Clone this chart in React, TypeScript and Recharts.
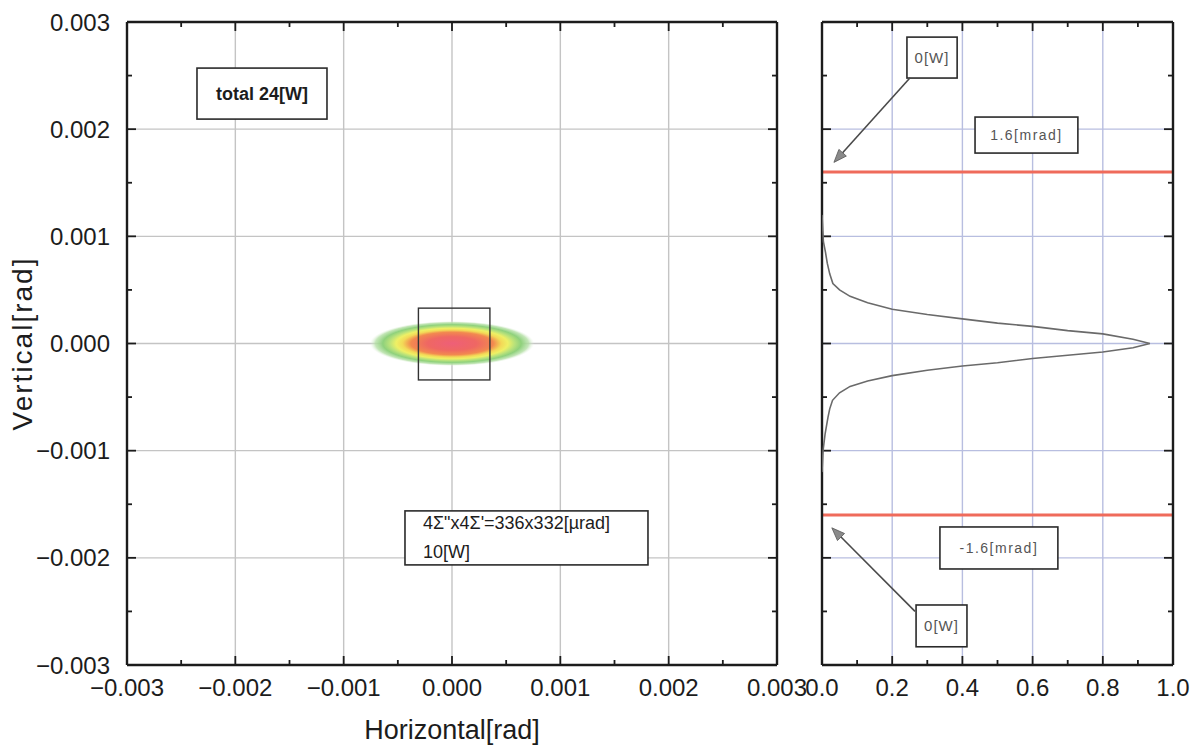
import {
  ComposedChart,
  XAxis,
  YAxis,
  CartesianGrid,
  Scatter,
  ReferenceArea,
  ReferenceLine,
} from "recharts";

// angle ticks [rad]
const radMajor = [-0.003, -0.002, -0.001, 0, 0.001, 0.002, 0.003];
const radMinor = [-0.0025, -0.0015, -0.0005, 0.0005, 0.0015, 0.0025];
// normalised power ticks
const powMajor = [0, 0.2, 0.4, 0.6, 0.8, 1.0];

// beam spot on the screen
const spotCenter = [{ h: 0, v: 0 }];
const spotH = [-0.00076, 0.00076];
const spotV = [-0.00021, 0.00021];
const sigmaBoxH = [-0.00031, 0.00035];
const sigmaBoxV = [-0.00034, 0.00033];

// vertical profile (right panel)
const profileV = [
  0.0012, 0.00095, 0.00085, 0.00075, 0.00065, 0.00056, 0.0005, 0.00044, 0.00038,
  0.00032, 0.00027, 0.00023, 0.00019, 0.00016, 0.00012, 0.00009, 0.00004, 0,
  -0.00004, -0.00008, -0.00011, -0.00014, -0.00018, -0.00021, -0.00025, -0.0003,
  -0.00035, -0.0004, -0.00046, -0.00053, -0.00061, -0.00069, -0.00084, -0.001, -0.0012,
];
const profileP = [
  0, 0.004, 0.01, 0.015, 0.022, 0.031, 0.05, 0.08, 0.13, 0.2, 0.3, 0.4, 0.5, 0.6,
  0.7, 0.8, 0.886, 0.934, 0.886, 0.8, 0.7, 0.6, 0.5, 0.4, 0.3, 0.2, 0.13, 0.08,
  0.05, 0.03, 0.022, 0.017, 0.009, 0.003, 0,
];
const limits = [0.0016, -0.0016];

const totalText = ["total 24[W]"];
const sizeText = ["4Σ\"x4Σ'=336x332[µrad]", "10[W]"];
const limitText = ["1.6[mrad]", "-1.6[mrad]"];
const zeroText = ["0[W]"];

const profile = profileV.map((v, i) => ({ v, p: profileP[i] }));

const FONT = "'Liberation Sans', Arial, sans-serif";
const INK = "#1c1c1c";
const RAD: [number, number] = [-0.003, 0.003];
const POW: [number, number] = [0, 1];

// layout
const H = 748;
const TOP = 22;
const X_AXIS_H = 83;
const PLOT_H = H - TOP - X_AXIS_H;
const TICK_MARGIN = 14;
const LEFT_PLOT_W = 650;
const RIGHT_PLOT_W = 351;

const fmtRad = (v: number) =>
  (v < -1e-9 ? "\u2212" : "") + Math.abs(v).toFixed(3);
const fmtPow = (v: number) => v.toFixed(1);

const spotStops = [
  ["0%", "#ee5f78", 1],
  ["30%", "#ef6763", 1],
  ["50%", "#f2894f", 1],
  ["60%", "#f3d957", 1],
  ["68%", "#eef065", 1],
  ["76%", "#b9e27a", 1],
  ["84%", "#8fd17c", 1],
  ["93%", "#b5e0a6", 0.8],
  ["100%", "#e8f4e4", 0],
] as const;

function SpotShape(p: any) {
  const { x, y, width, height } = p;
  return (
    <g>
      <defs>
        <radialGradient id="spotGrad" cx="50%" cy="50%" r="50%">
          {spotStops.map(([o, c, a]) => (
            <stop key={o} offset={o} stopColor={c} stopOpacity={a} />
          ))}
        </radialGradient>
      </defs>
      <ellipse
        cx={x + width / 2}
        cy={y + height / 2}
        rx={width / 2}
        ry={height / 2}
        fill="url(#spotGrad)"
      />
    </g>
  );
}

function FrameRect(p: any) {
  return (
    <rect
      x={p.x}
      y={p.y}
      width={p.width}
      height={p.height}
      fill="none"
      stroke="#333"
      strokeWidth={1.4}
    />
  );
}

function noteBox(
  lines: string[],
  o: { size: number; weight?: number; color?: string; start?: number; gap?: number; spacing?: number }
) {
  return (p: any) => {
    const { x, y, width, height } = p;
    const gap = o.gap ?? o.size * 1.45;
    const tx = o.start != null ? x + o.start : x + width / 2;
    const y0 = y + height / 2 - ((lines.length - 1) * gap) / 2;
    return (
      <g>
        <rect x={x} y={y} width={width} height={height} fill="#fff" stroke="#2a2a2a" strokeWidth={1.6} />
        {lines.map((t, i) => (
          <text
            key={i}
            x={tx}
            y={y0 + i * gap}
            textAnchor={o.start != null ? "start" : "middle"}
            dominantBaseline="central"
            fontSize={o.size}
            fontWeight={o.weight ?? 400}
            fill={o.color ?? INK}
            fontFamily={FONT}
            letterSpacing={o.spacing ?? 0}
          >
            {t}
          </text>
        ))}
      </g>
    );
  };
}

function Arrow(p: any) {
  const { x1, y1, x2, y2 } = p;
  const a = Math.atan2(y2 - y1, x2 - x1);
  const L = 13;
  const W = 5;
  const bx = x2 - L * Math.cos(a);
  const by = y2 - L * Math.sin(a);
  const pts = [
    `${x2},${y2}`,
    `${bx + W * Math.sin(a)},${by - W * Math.cos(a)}`,
    `${bx - W * Math.sin(a)},${by + W * Math.cos(a)}`,
  ].join(" ");
  return (
    <g>
      <line x1={x1} y1={y1} x2={bx} y2={by} stroke="#4a4a4a" strokeWidth={1.6} />
      <polygon points={pts} fill="#8a8a8a" stroke="#555" strokeWidth={0.8} />
    </g>
  );
}

// bottom tick label plus the inward marks on the bottom and top frame
// (a major mark at the tick, a minor mark halfway to the next one)
function frameTick(fmt: (v: number) => string, step: number, last: number) {
  return (p: any) => {
    const v = p.payload.value;
    const base = p.y - TICK_MARGIN;
    const top = base - PLOT_H;
    const marks: [number, number][] = [[p.x, 9]];
    if (v < last - 1e-12) marks.push([p.x + step / 2, 5]);
    return (
      <g>
        {marks.map(([mx, len], i) => (
          <g key={i} stroke={INK} strokeWidth={1.8}>
            <line x1={mx} x2={mx} y1={base} y2={base - len} />
            <line x1={mx} x2={mx} y1={top} y2={top + len} />
          </g>
        ))}
        <text
          x={p.x}
          y={p.y}
          dy="0.71em"
          textAnchor="middle"
          fontSize={24}
          fill={INK}
          fontFamily={FONT}
        >
          {fmt(v)}
        </text>
      </g>
    );
  };
}

const noLabel = () => <g />;

// inward tick marks on a left/right edge: mirrored axis with (almost) no width
function edgeAxis(
  side: "left" | "right",
  id: string | number,
  ticks: number[],
  size: number,
  line: boolean,
  dataKey?: string
) {
  return (
    <YAxis
      key={`${side}${id}`}
      mirror
      type="number"
      domain={RAD}
      ticks={ticks}
      interval={0}
      allowDataOverflow
      tick={noLabel}
      tickSize={size}
      dataKey={dataKey}
      tickLine={{ stroke: INK, strokeWidth: 1.8 }}
      axisLine={line ? { stroke: INK, strokeWidth: 2.4 } : false}
      yAxisId={id}
      orientation={side}
      width={0.01}
    />
  );
}

// top frame line
function topFrame(domain: [number, number]) {
  return (
    <XAxis
      xAxisId="top"
      orientation="top"
      mirror
      type="number"
      domain={domain}
      allowDataOverflow
      height={0.01}
      tick={false}
      tickLine={false}
      axisLine={{ stroke: INK, strokeWidth: 2.4 }}
    />
  );
}

function VerticalLabel(props: any) {
  const vb = props.viewBox || { x: 0, y: TOP, width: 127, height: PLOT_H };
  const cx = vb.x + 22;
  const cy = vb.y + vb.height / 2;
  return (
    <text
      x={cx}
      y={cy}
      transform={`rotate(-90 ${cx} ${cy})`}
      textAnchor="middle"
      dominantBaseline="central"
      fontSize={28}
      letterSpacing={2}
      fill={INK}
      fontFamily={FONT}
    >
      Vertical[rad]
    </text>
  );
}

const tickFont = { fill: INK, fontSize: 24, fontFamily: FONT };

function SpotChart() {
  return (
    <ComposedChart width={810} height={H} margin={{ top: TOP, right: 33, bottom: 0, left: 0 }}>
      <CartesianGrid stroke="#c4c4c4" strokeWidth={1.4} />
      <XAxis
        type="number"
        dataKey="h"
        domain={RAD}
        ticks={radMajor}
        interval={0}
        allowDataOverflow
        height={X_AXIS_H}
        tickLine={false}
        tickSize={0}
        tickMargin={TICK_MARGIN}
        tick={frameTick(fmtRad, LEFT_PLOT_W / (radMajor.length - 1), radMajor[radMajor.length - 1])}
        axisLine={{ stroke: INK, strokeWidth: 2.4 }}
        label={{
          value: "Horizontal[rad]",
          position: "insideBottom",
          offset: 9,
          fontSize: 27,
          fill: INK,
          fontFamily: FONT,
        }}
      />
      <YAxis
        type="number"
        dataKey="v"
        domain={RAD}
        ticks={radMajor}
        interval={0}
        allowDataOverflow
        width={127}
        tickLine={false}
        tickSize={0}
        tickMargin={17}
        tick={tickFont}
        tickFormatter={fmtRad}
        axisLine={{ stroke: INK, strokeWidth: 2.4 }}
        label={<VerticalLabel />}
      />
      {topFrame(RAD)}
      {edgeAxis("left", "l1", radMajor, 9, false)}
      {edgeAxis("left", "l2", radMinor, 5, false)}
      {edgeAxis("right", "r1", radMajor, 9, true)}
      {edgeAxis("right", "r2", radMinor, 5, false)}
      <ReferenceArea x1={spotH[0]} x2={spotH[1]} y1={spotV[0]} y2={spotV[1]} shape={SpotShape} />
      <ReferenceArea
        x1={sigmaBoxH[0]}
        x2={sigmaBoxH[1]}
        y1={sigmaBoxV[0]}
        y2={sigmaBoxV[1]}
        shape={FrameRect}
      />
      <ReferenceArea
        x1={-0.002354}
        x2={-0.001154}
        y1={0.002094}
        y2={0.00257}
        shape={noteBox(totalText, { size: 18, weight: 700 })}
      />
      <ReferenceArea
        x1={-0.000434}
        x2={0.001809}
        y1={-0.002066}
        y2={-0.001562}
        shape={noteBox(sizeText, { size: 18, weight: 500, start: 18, gap: 29 })}
      />
      <Scatter data={spotCenter} isAnimationActive={false} shape={noLabel} />
    </ComposedChart>
  );
}

function ProfileChart() {
  return (
    <ComposedChart width={400} height={H} margin={{ top: TOP, right: 27, bottom: 0, left: 22 }}>
      <CartesianGrid stroke="#b8bee0" strokeWidth={1.4} />
      <XAxis
        type="number"
        dataKey="p"
        domain={POW}
        ticks={powMajor}
        interval={0}
        allowDataOverflow
        height={X_AXIS_H}
        tickLine={false}
        tickSize={0}
        tickMargin={TICK_MARGIN}
        tick={frameTick(fmtPow, RIGHT_PLOT_W / (powMajor.length - 1), powMajor[powMajor.length - 1])}
        axisLine={{ stroke: INK, strokeWidth: 2.4 }}
      />
      {topFrame(POW)}
      {edgeAxis("left", 0, radMajor, 9, true, "v")}
      {edgeAxis("left", "l2", radMinor, 5, false)}
      {edgeAxis("right", "r1", radMajor, 9, true)}
      {edgeAxis("right", "r2", radMinor, 5, false)}
      {limits.map((y) => (
        <ReferenceLine key={y} y={y} stroke="#ef6b5b" strokeWidth={3} />
      ))}
      <Scatter
        data={profile}
        isAnimationActive={false}
        line={{ stroke: "#6a6a6a", strokeWidth: 1.6 }}
        lineType="joint"
        shape={noLabel}
      />
      <ReferenceArea
        x1={0.436}
        x2={0.729}
        y1={0.001777}
        y2={0.002113}
        shape={noteBox([limitText[0]], { size: 14, color: "#555", spacing: 1.5 })}
      />
      <ReferenceArea
        x1={0.336}
        x2={0.672}
        y1={-0.002104}
        y2={-0.001712}
        shape={noteBox([limitText[1]], { size: 14, color: "#555", spacing: 1.5 })}
      />
      <ReferenceArea
        x1={0.242}
        x2={0.385}
        y1={0.002477}
        y2={0.002859}
        shape={noteBox(zeroText, { size: 15, color: "#555", spacing: 1 })}
      />
      <ReferenceArea
        x1={0.268}
        x2={0.413}
        y1={-0.00283}
        y2={-0.00244}
        shape={noteBox(zeroText, { size: 15, color: "#555", spacing: 1 })}
      />
      <ReferenceLine
        segment={[
          { x: 0.251, y: 0.00248 },
          { x: 0.034, y: 0.00169 },
        ]}
        shape={Arrow}
      />
      <ReferenceLine
        segment={[
          { x: 0.265, y: -0.0025 },
          { x: 0.028, y: -0.00172 },
        ]}
        shape={Arrow}
      />
    </ComposedChart>
  );
}

export default function App() {
  return (
    <div
      style={{
        position: "absolute",
        left: 0,
        top: 0,
        width: 1200,
        height: H,
        background: "#fff",
        overflow: "hidden",
      }}
    >
      <div style={{ position: "absolute", left: 0, top: 0 }}>
        <SpotChart />
      </div>
      <div style={{ position: "absolute", left: 800, top: 0 }}>
        <ProfileChart />
      </div>
    </div>
  );
}
